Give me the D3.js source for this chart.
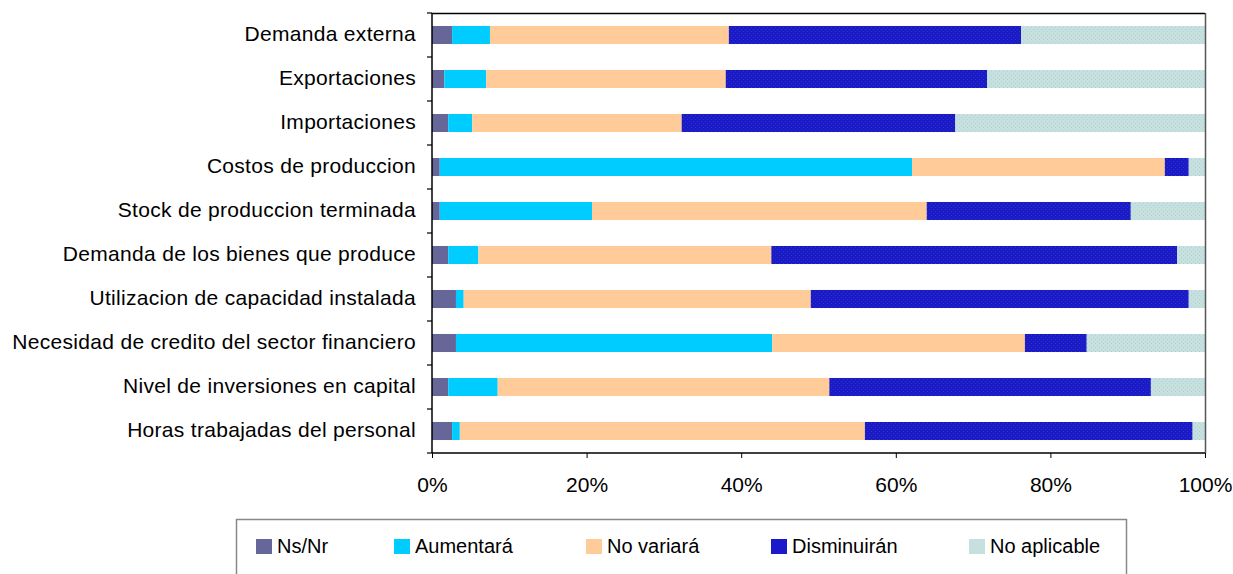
<!DOCTYPE html>
<html><head><meta charset="utf-8">
<script src="https://cdn.jsdelivr.net/npm/d3@7"></script>
<style>body{margin:0;background:#fff}svg{display:block}</style>
</head><body>
<script>
const categories = ["Demanda externa","Exportaciones","Importaciones","Costos de produccion","Stock de produccion terminada","Demanda de los bienes que produce","Utilizacion de capacidad instalada","Necesidad de credito del sector financiero","Nivel de inversiones en capital","Horas trabajadas del personal"];
const seriesNames = ["Ns/Nr","Aumentará","No variará","Disminuirán","No aplicable"];
const nsnr        = [2.6,1.6,2.1,1.0,1.0,2.1,3.1,3.1,2.1,2.6];
const aumentara   = [4.9,5.4,3.1,61.1,19.7,3.9,1.0,40.9,6.4,1.0];
const noVariara   = [30.9,31.0,27.1,32.7,43.3,37.9,44.9,32.7,42.9,52.4];
const disminuiran = [37.8,33.8,35.4,3.1,26.4,52.5,48.9,8.0,41.6,42.4];
const noAplicable = [23.8,28.2,32.3,2.1,9.6,3.6,2.1,15.3,7.0,1.6];
const tickValues = [0,0.2,0.4,0.6,0.8,1.0];

(function(){
const W=1233,H=574;
const svg=d3.select("body").append("svg").attr("width",W).attr("height",H);
const defs=svg.append("defs");
function dotPattern(id,base,dot){
  const p=defs.append("pattern").attr("id",id).attr("width",4).attr("height",4).attr("patternUnits","userSpaceOnUse");
  p.append("rect").attr("width",4).attr("height",4).attr("fill",base);
  p.append("rect").attr("x",1).attr("y",1).attr("width",1).attr("height",1).attr("fill",dot);
  p.append("rect").attr("x",3).attr("y",3).attr("width",1).attr("height",1).attr("fill",dot);
}
dotPattern("pDis","#1a1acb","#2c36a8");
dotPattern("pNA","#c6e0e0","#b4d2d2");
const fills=["#666699","#00ccff","#ffcc99","url(#pDis)","url(#pNA)"];
const legendFills=["#666699","#00ccff","#ffcc99","#1a1acb","#c6e0e0"];

const pL=432,pR=1205,pT=13,pB=453;
const x=d3.scaleLinear().domain([0,1]).range([pL,pR]);
const y=d3.scaleBand().domain(categories).range([pT,pB]).paddingInner(0.59).paddingOuter(0.295);

const rows=categories.map((c,i)=>({cat:c,"Ns/Nr":nsnr[i],"Aumentará":aumentara[i],"No variará":noVariara[i],"Disminuirán":disminuiran[i],"No aplicable":noAplicable[i]}));
const stack=d3.stack().keys(seriesNames).offset(d3.stackOffsetExpand)(rows);

svg.selectAll("g.series").data(stack).join("g").attr("class","series")
  .attr("fill",(d,i)=>fills[i])
  .selectAll("rect").data(d=>d).join("rect")
  .attr("x",d=>x(d[0])).attr("width",d=>x(d[1])-x(d[0]))
  .attr("y",d=>y(d.data.cat)).attr("height",y.bandwidth());

// plot border top/right
svg.append("line").attr("x1",pL).attr("x2",pR).attr("y1",pT+0.5).attr("y2",pT+0.5).attr("stroke","#000").attr("stroke-width",1.5);
svg.append("line").attr("x1",pR+0.5).attr("x2",pR+0.5).attr("y1",pT).attr("y2",pB).attr("stroke","#555").attr("stroke-width",1.5);

// y axis: ticks at band boundaries
const yAxisG=svg.append("g");
yAxisG.append("line").attr("x1",pL).attr("x2",pL).attr("y1",pT).attr("y2",pB).attr("stroke","#000").attr("stroke-width",1.5);
const bounds=d3.range(categories.length+1).map(i=>pT+i*(pB-pT)/categories.length);
yAxisG.selectAll("line.t").data(bounds).join("line").attr("class","t")
  .attr("x1",pL-5).attr("x2",pL).attr("y1",d=>d).attr("y2",d=>d).attr("stroke","#000").attr("stroke-width",1.2);
yAxisG.selectAll("text").data(categories).join("text")
  .attr("x",416).attr("y",d=>y(d)+y.bandwidth()/2-2).attr("dy","0.36em")
  .attr("text-anchor","end").attr("font-family","Liberation Sans, Arial, sans-serif").attr("font-size",21)
  .attr("letter-spacing","0.3px")
  .attr("fill","#000").text(d=>d);

// x axis
const xAxis=d3.axisBottom(x).tickValues(tickValues).tickFormat(d3.format(".0%")).tickSize(5).tickPadding(19);
const xg=svg.append("g").attr("transform",`translate(0,${pB})`).call(xAxis);
xg.select(".domain").attr("stroke","#000").attr("stroke-width",1.5).attr("d",`M${pL},0H${pR}`);
xg.selectAll(".tick line").attr("stroke","#000");
xg.selectAll(".tick text").attr("font-family","Liberation Sans, Arial, sans-serif").attr("font-size",21).attr("fill","#000");

// legend
const lg=svg.append("g");
lg.append("rect").attr("x",236.5).attr("y",519.5).attr("width",890).attr("height",80).attr("fill","#fff").attr("stroke","#888").attr("stroke-width",1.5);
const legX=[256,394,586,771,969];
seriesNames.forEach((s,i)=>{
  lg.append("rect").attr("x",legX[i]).attr("y",539).attr("width",16).attr("height",15).attr("fill",legendFills[i]);
  lg.append("text").attr("x",legX[i]+21).attr("y",546).attr("dy","0.36em")
    .attr("font-family","Liberation Sans, Arial, sans-serif").attr("font-size",20).attr("fill","#000").text(s);
});
})();
</script>
</body></html>
